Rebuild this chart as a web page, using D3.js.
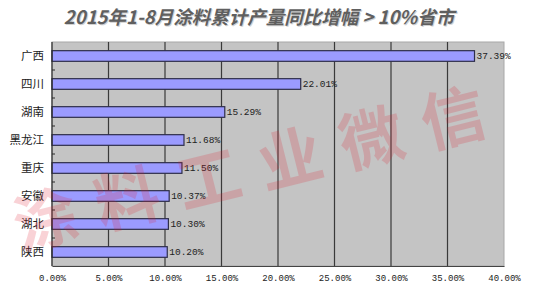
<!DOCTYPE html>
<html>
<head>
<meta charset="utf-8">
<script src="https://cdn.jsdelivr.net/npm/d3@7"></script>
<style>
  html, body { margin: 0; padding: 0; background: #fff; }
  svg { display: block; }
</style>
</head>
<body>
<svg id="chart" width="550" height="300"></svg>
<script>
// Provinces with Jan–Aug 2015 coating output growth above 10%
const provinces = ["广西", "四川", "湖南", "黑龙江", "重庆", "安徽", "湖北", "陕西"];
const growth = [37.39, 22.01, 15.29, 11.68, 11.50, 10.37, 10.30, 10.20];
const xTicks = [0, 5, 10, 15, 20, 25, 30, 35, 40];
const titleText = "2015年1-8月涂料累计产量同比增幅 > 10%省市";
const watermarkText = "涂料工业微信";

const svg = d3.select("#chart");
const margin = { top: 42, right: 46, bottom: 34, left: 52 };
const W = 550, H = 300;
const innerW = W - margin.left - margin.right;
const innerH = H - margin.top - margin.bottom;

const x = d3.scaleLinear().domain([0, 40]).range([0, innerW]);
const y = d3.scaleBand().domain(provinces).range([0, innerH]).paddingInner(0.62).paddingOuter(0.31);
const band = d3.scaleBand().domain(provinces).range([0, innerH]);

// Title with a soft drop shadow
const titleFont = { family: "'Noto Sans CJK SC', sans-serif", size: 18.5 };
[["#d2d2d2", 1], ["#5f5f5f", 0]].forEach(([fill, off]) => {
  svg.append("text")
    .attr("x", 259 + off).attr("y", 24 + off)
    .attr("text-anchor", "middle")
    .attr("font-family", titleFont.family)
    .attr("font-size", titleFont.size).attr("font-weight", "bold").attr("font-style", "italic")
    .attr("fill", fill)
    .text(titleText);
});

const g = svg.append("g").attr("transform", `translate(${margin.left},${margin.top})`);

// Plot background
g.append("rect")
  .attr("width", innerW).attr("height", innerH)
  .attr("fill", "#c4c4c4").attr("stroke", "#a8a8a8");

// Vertical gridlines
g.selectAll("line.grid")
  .data(xTicks.filter(t => t > 0 && t < 40))
  .join("line").attr("class", "grid")
  .attr("x1", d => x(d)).attr("x2", d => x(d))
  .attr("y1", 0).attr("y2", innerH)
  .attr("stroke", "#3a3a3a").attr("stroke-width", 1.2);

// Bars
g.selectAll("rect.bar")
  .data(provinces)
  .join("rect").attr("class", "bar")
  .attr("x", 0)
  .attr("y", d => y(d))
  .attr("width", (d, i) => x(growth[i]))
  .attr("height", y.bandwidth())
  .attr("fill", "#9b9bff")
  .attr("stroke", "#2e2e4a").attr("stroke-width", 1.2);

// Value labels
g.selectAll("text.val")
  .data(provinces)
  .join("text").attr("class", "val")
  .attr("x", (d, i) => x(growth[i]) + 2)
  .attr("y", d => y(d) + y.bandwidth() / 2)
  .attr("dy", "0.35em")
  .attr("font-family", "'Liberation Mono', monospace")
  .attr("font-size", 9.5)
  .attr("fill", "#222")
  .text((d, i) => growth[i].toFixed(2) + "%");

// Category axis
g.append("line")
  .attr("x1", 0).attr("x2", 0).attr("y1", 0).attr("y2", innerH)
  .attr("stroke", "#2a2a2a").attr("stroke-width", 1.2);
g.selectAll("line.ytick")
  .data(provinces.slice(1))
  .join("line").attr("class", "ytick")
  .attr("x1", 0).attr("x2", 3)
  .attr("y1", d => band(d)).attr("y2", d => band(d))
  .attr("stroke", "#2a2a2a");
g.selectAll("text.cat")
  .data(provinces)
  .join("text").attr("class", "cat")
  .attr("x", -8)
  .attr("y", d => band(d) + band.bandwidth() / 2)
  .attr("dy", "0.35em")
  .attr("text-anchor", "end")
  .attr("font-family", "'Noto Sans CJK SC', sans-serif")
  .attr("font-size", 11.5)
  .attr("fill", "#222")
  .text(d => d);

// Value axis
const xAxis = d3.axisBottom(x)
  .tickValues(xTicks)
  .tickSize(0)
  .tickPadding(9)
  .tickFormat(d => d.toFixed(2) + "%");
const xg = g.append("g").attr("transform", `translate(0,${innerH})`).call(xAxis);
xg.select(".domain").attr("stroke", "#444").attr("stroke-width", 1.2);
xg.selectAll("text")
  .attr("font-family", "'Liberation Mono', monospace")
  .attr("font-size", 9)
  .attr("fill", "#222");

// Watermark across the plot
const wm = svg.append("g")
  .attr("transform", "translate(258,162) rotate(-14)")
  .attr("opacity", 0.19);
wm.append("text")
  .attr("text-anchor", "middle")
  .attr("dominant-baseline", "central")
  .attr("font-family", "'Noto Sans CJK SC', sans-serif")
  .attr("font-size", 64).attr("font-weight", "bold")
  .attr("letter-spacing", 20)
  .attr("fill", "#e0192c")
  .text(watermarkText);
</script>
</body>
</html>
